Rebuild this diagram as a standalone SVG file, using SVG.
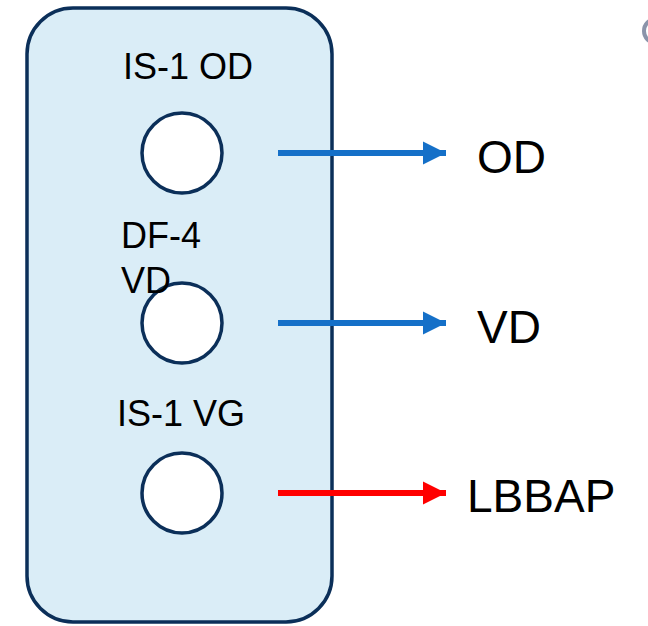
<svg xmlns="http://www.w3.org/2000/svg" width="648" height="626" viewBox="0 0 648 626">
<defs>
<style>
.box{fill:#daedf7;stroke:#0b2f59;stroke-width:3.5}
.port{fill:#ffffff;stroke:#0b2f59;stroke-width:3.5}
.lbl{font-family:"Liberation Sans",Arial,sans-serif;font-size:36px;fill:#000}
.out{font-family:"Liberation Sans",Arial,sans-serif;font-size:46px;fill:#000}
.blue{stroke:#1570c8;stroke-width:6;fill:none}
.red{stroke:#ff0000;stroke-width:6;fill:none}
</style>
<marker id="ab" markerUnits="userSpaceOnUse" markerWidth="24" markerHeight="24" refX="23" refY="12" orient="auto" viewBox="0 0 24 24"><path d="M0,0.5 L23,12 L0,23.5 Z" fill="#1570c8"/></marker>
<marker id="ar" markerUnits="userSpaceOnUse" markerWidth="24" markerHeight="24" refX="23" refY="12" orient="auto" viewBox="0 0 24 24"><path d="M0,0.5 L23,12 L0,23.5 Z" fill="#ff0000"/></marker>
</defs>
<rect width="648" height="626" fill="#ffffff"/>
<circle cx="656" cy="31" r="12" fill="none" stroke="#8a94aa" stroke-width="4"/>
<g id="header">
<rect class="box" x="27" y="8" width="305" height="614" rx="46" ry="46"/>
</g>
<g id="node-od">
<text class="lbl" x="123" y="79">IS-1 OD</text>
<circle class="port" cx="182" cy="153" r="40"/>
</g>
<g id="node-vd">
<text class="lbl" x="121" y="248">DF-4</text>
<circle class="port" cx="182" cy="323" r="40"/>
<text class="lbl" x="121" y="293">VD</text>
</g>
<g id="node-vg">
<text class="lbl" x="117" y="426">IS-1 VG</text>
<circle class="port" cx="182" cy="493" r="40"/>
</g>
<g id="connectors">
<line class="blue" x1="278" y1="153" x2="446" y2="153" marker-end="url(#ab)"/>
<line class="blue" x1="278" y1="323" x2="446" y2="323" marker-end="url(#ab)"/>
<line class="red" x1="278" y1="493" x2="446" y2="493" marker-end="url(#ar)"/>
</g>
<g id="out-od"><text class="out" x="477" y="173">OD</text></g>
<g id="out-vd"><text class="out" x="477" y="343">VD</text></g>
<g id="out-lbbap"><text class="out" x="467" y="512">LBBAP</text></g>
</svg>
